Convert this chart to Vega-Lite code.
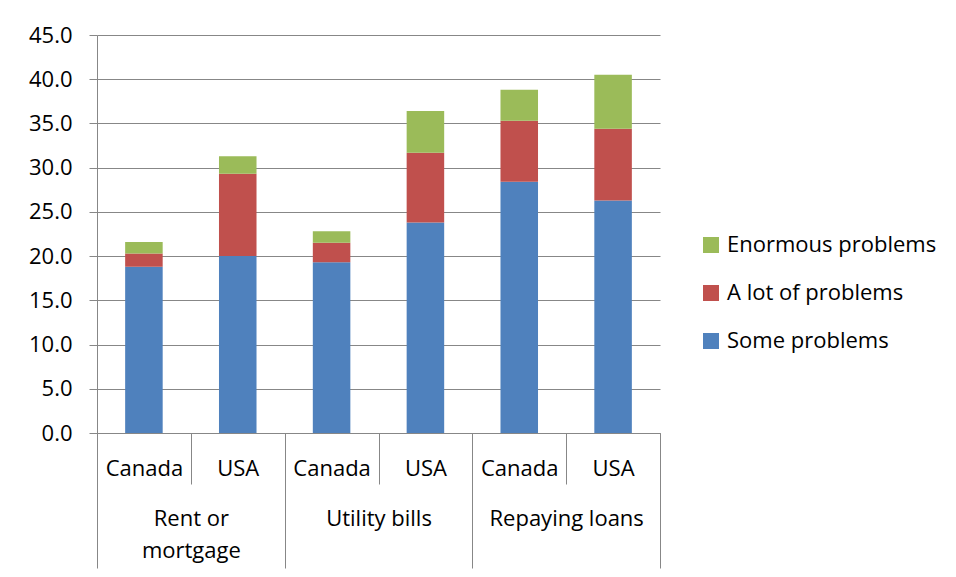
{
  "$schema": "https://vega.github.io/schema/vega-lite/v6.json",
  "autosize": {"type": "none"},
  "padding": {"left": 97, "top": 35, "right": 296, "bottom": 144},
  "width": 563,
  "height": 398,
  "background": "white",
  "config": {
    "view": {"stroke": null},
    "font": "Open Sans",
    "axis": {"labelFont": "Open Sans", "labelColor": "#000000", "domainColor": "#878787", "tickColor": "#878787", "gridColor": "#878787", "labelFontSize": 22}
  },
  "data": {
    "values": [
      {"category": "Rent or mortgage", "country": "Canada", "level": "Some problems", "rank": 1, "value": 18.8},
      {"category": "Rent or mortgage", "country": "Canada", "level": "A lot of problems", "rank": 2, "value": 1.5},
      {"category": "Rent or mortgage", "country": "Canada", "level": "Enormous problems", "rank": 3, "value": 1.3},
      {"category": "Rent or mortgage", "country": "USA", "level": "Some problems", "rank": 1, "value": 20.0},
      {"category": "Rent or mortgage", "country": "USA", "level": "A lot of problems", "rank": 2, "value": 9.3},
      {"category": "Rent or mortgage", "country": "USA", "level": "Enormous problems", "rank": 3, "value": 2.0},
      {"category": "Utility bills", "country": "Canada", "level": "Some problems", "rank": 1, "value": 19.3},
      {"category": "Utility bills", "country": "Canada", "level": "A lot of problems", "rank": 2, "value": 2.2},
      {"category": "Utility bills", "country": "Canada", "level": "Enormous problems", "rank": 3, "value": 1.3},
      {"category": "Utility bills", "country": "USA", "level": "Some problems", "rank": 1, "value": 23.8},
      {"category": "Utility bills", "country": "USA", "level": "A lot of problems", "rank": 2, "value": 7.9},
      {"category": "Utility bills", "country": "USA", "level": "Enormous problems", "rank": 3, "value": 4.7},
      {"category": "Repaying loans", "country": "Canada", "level": "Some problems", "rank": 1, "value": 28.4},
      {"category": "Repaying loans", "country": "Canada", "level": "A lot of problems", "rank": 2, "value": 6.9},
      {"category": "Repaying loans", "country": "Canada", "level": "Enormous problems", "rank": 3, "value": 3.5},
      {"category": "Repaying loans", "country": "USA", "level": "Some problems", "rank": 1, "value": 26.3},
      {"category": "Repaying loans", "country": "USA", "level": "A lot of problems", "rank": 2, "value": 8.1},
      {"category": "Repaying loans", "country": "USA", "level": "Enormous problems", "rank": 3, "value": 6.1}
    ]
  },
  "transform": [{"calculate": "datum.category + '|' + datum.country", "as": "key"}],
  "layer": [
    {
      "mark": {"type": "bar", "width": {"band": 0.4}},
      "encoding": {
        "x": {
          "field": "key", "type": "nominal", "sort": null,
          "scale": {"paddingInner": 0, "paddingOuter": 0},
          "axis": {
            "orient": "bottom", "title": null, "labelAngle": 0,
            "labelExpr": "split(datum.value, '|')[1]",
            "tickBand": "extent", "tickSize": 51, "labelPadding": -16,
            "labelBaseline": "middle", "domainColor": "#878787"
          }
        },
        "y": {
          "field": "value", "type": "quantitative", "stack": "zero",
          "scale": {"domain": [0, 45], "nice": false},
          "axis": {"title": null, "values": [0, 5, 10, 15, 20, 25, 30, 35, 40, 45], "format": ".1f", "tickSize": 8, "labelPadding": 17, "grid": true}
        },
        "color": {
          "field": "level", "type": "nominal",
          "scale": {"domain": ["Enormous problems", "A lot of problems", "Some problems"], "range": ["#9BBB59", "#C0504D", "#4F81BD"]},
          "legend": {
            "title": null, "orient": "none", "legendX": 603, "legendY": 199,
            "symbolType": "square", "symbolSize": 256, "symbolStrokeWidth": 0,
            "labelFontSize": 22, "labelFont": "Open Sans", "labelColor": "#000000",
            "labelOffset": 5, "rowPadding": 26, "padding": 0, "labelLimit": 400
          }
        },
        "order": {"field": "rank", "type": "quantitative", "sort": "ascending"}
      }
    },
    {
      "mark": {"type": "bar", "opacity": 0},
      "encoding": {
        "x": {
          "field": "category", "type": "nominal", "sort": null,
          "scale": {"paddingInner": 0, "paddingOuter": 0},
          "axis": {
            "orient": "bottom", "title": null, "labelAngle": 0, "domain": false,
            "tickBand": "extent", "tickSize": 135, "labelPadding": -60,
            "labelBaseline": "top", "labelLineHeight": 32,
            "labelExpr": "datum.value == 'Rent or mortgage' ? ['Rent or', 'mortgage'] : datum.value"
          }
        }
      }
    }
  ],
  "resolve": {"scale": {"x": "independent"}, "axis": {"x": "independent"}}
}
